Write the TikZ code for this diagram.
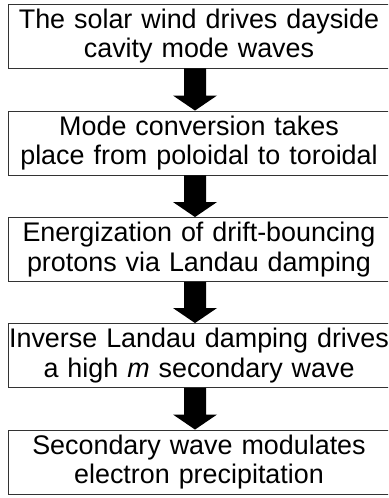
\documentclass[tikz,border=0pt]{standalone}
\usepackage{fontspec}
\setmainfont{Liberation Sans}
\usetikzlibrary{calc}
\tikzset{
  box/.style={draw=black!80, line width=0.9bp, minimum width=382bp, minimum height=64bp,
    inner sep=0pt, align=center, text width=380bp,
    font=\fontsize{26.9bp}{29.5bp}\selectfont},
  flowarrow/.style={fill=black}
}
\newcommand{\flowarr}[2]{%
  \fill[flowarrow] let \p1=(#1.south), \p2=(#2.north) in
    (\x1-15bp,\y1) -- (\x1+7bp,\y1) -- (\x1+7bp,\y2+15bp) -- (\x1+18bp,\y2+15bp)
    -- (\x1-4bp,\y2) -- (\x1-26bp,\y2+15bp) -- (\x1-15bp,\y2+15bp) -- cycle;}
\begin{document}
\begin{tikzpicture}[x=1bp,y=-1bp]
\useasboundingbox (0,0) rectangle (388,498);
\begin{scope}
\clip (0,0) rectangle (388,498);
\node[box] (b1) at (199,36) {The solar wind drives dayside\\cavity mode waves};
\node[box] (b2) at (199,143) {Mode conversion takes\\place from poloidal to toroidal};
\node[box] (b3) at (199,249.5) {Energization of drift-bouncing\\protons via Landau damping};
\node[box] (b4) at (199,355.5) {Inverse Landau damping drives\\a high \textit{m} secondary wave};
\node[box] (b5) at (199,462) {Secondary wave modulates\\electron precipitation};
\flowarr{b1}{b2}
\flowarr{b2}{b3}
\flowarr{b3}{b4}
\flowarr{b4}{b5}
\end{scope}
\end{tikzpicture}
\end{document}
